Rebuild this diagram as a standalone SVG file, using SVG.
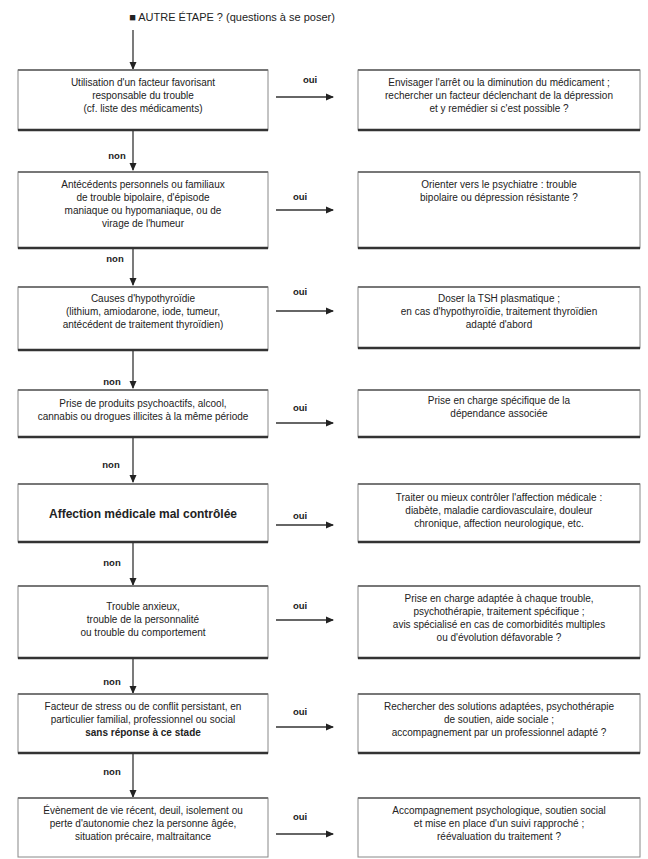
<svg xmlns="http://www.w3.org/2000/svg" width="648" height="859" viewBox="0 0 648 859">
<defs>
<marker id="ah" markerWidth="8" markerHeight="8" refX="7" refY="4" orient="auto" markerUnits="userSpaceOnUse">
<path d="M0,0.5 L8,4 L0,7.5 z" fill="#222"/>
</marker>
<style>
.box{fill:#fff;stroke:#888;stroke-width:1}
.top{stroke:#777;stroke-width:2}
.bot{stroke:#333;stroke-width:2.5}
.t{font-family:"Liberation Sans",Arial,sans-serif;font-size:10px;fill:#222;text-anchor:middle}
.b{font-weight:bold}
.lbl{font-family:"Liberation Sans",Arial,sans-serif;font-size:9.5px;fill:#222;text-anchor:middle;font-weight:bold}
.c{stroke:#333;stroke-width:1.3;fill:none;marker-end:url(#ah)}
</style>
</defs>
<rect width="648" height="859" fill="#fff"/>

<text class="t" x="232" y="21" style="font-size:11px">■ AUTRE ÉTAPE ? (questions à se poser)</text>

<g id="connectors">
<line class="c" x1="133" y1="30" x2="133" y2="69"/>
<line class="c" x1="133" y1="131" x2="133" y2="170"/>
<line class="c" x1="133" y1="249" x2="133" y2="285"/>
<line class="c" x1="133" y1="351" x2="133" y2="388"/>
<line class="c" x1="133" y1="438" x2="133" y2="482"/>
<line class="c" x1="133" y1="543" x2="133" y2="585"/>
<line class="c" x1="133" y1="659" x2="133" y2="693"/>
<line class="c" x1="133" y1="754" x2="133" y2="797"/>
<line class="c" x1="276" y1="97" x2="333" y2="97"/>
<line class="c" x1="276" y1="210" x2="333" y2="210"/>
<line class="c" x1="276" y1="311" x2="333" y2="311"/>
<line class="c" x1="276" y1="423" x2="333" y2="423"/>
<line class="c" x1="276" y1="525" x2="333" y2="525"/>
<line class="c" x1="276" y1="620" x2="333" y2="620"/>
<line class="c" x1="276" y1="727" x2="333" y2="727"/>
<line class="c" x1="276" y1="834" x2="333" y2="834"/>
<text class="lbl" x="310" y="83">oui</text>
<text class="lbl" x="300" y="200">oui</text>
<text class="lbl" x="300" y="295">oui</text>
<text class="lbl" x="300" y="411">oui</text>
<text class="lbl" x="300" y="519">oui</text>
<text class="lbl" x="300" y="609">oui</text>
<text class="lbl" x="300" y="715">oui</text>
<text class="lbl" x="300" y="820">oui</text>
<text class="lbl" x="117" y="159">non</text>
<text class="lbl" x="115" y="262">non</text>
<text class="lbl" x="112" y="385">non</text>
<text class="lbl" x="111" y="468">non</text>
<text class="lbl" x="112" y="566">non</text>
<text class="lbl" x="112" y="685">non</text>
<text class="lbl" x="112" y="775">non</text>
</g>

<g id="q1">
<rect class="box" x="18" y="70" width="250" height="60"/>
<line class="top" x1="18" y1="70" x2="268" y2="70"/><line class="bot" x1="18" y1="130" x2="268" y2="130"/>
<text class="t" x="143" y="86">Utilisation d'un facteur favorisant</text>
<text class="t" x="143" y="99">responsable du trouble</text>
<text class="t" x="143" y="112">(cf. liste des médicaments)</text>
</g>
<g id="r1">
<rect class="box" x="358" y="70" width="282" height="60"/>
<line class="top" x1="358" y1="70" x2="640" y2="70"/><line class="bot" x1="358" y1="130" x2="640" y2="130"/>
<text class="t" x="499" y="86">Envisager l'arrêt ou la diminution du médicament ;</text>
<text class="t" x="499" y="99">rechercher un facteur déclenchant de la dépression</text>
<text class="t" x="499" y="112">et y remédier si c'est possible ?</text>
</g>

<g id="q2">
<rect class="box" x="18" y="172" width="250" height="76"/>
<line class="top" x1="18" y1="172" x2="268" y2="172"/><line class="bot" x1="18" y1="248" x2="268" y2="248"/>
<text class="t" x="143" y="188">Antécédents personnels ou familiaux</text>
<text class="t" x="143" y="201">de trouble bipolaire, d'épisode</text>
<text class="t" x="143" y="214">maniaque ou hypomaniaque, ou de</text>
<text class="t" x="143" y="227">virage de l'humeur</text>
</g>
<g id="r2">
<rect class="box" x="358" y="172" width="282" height="76"/>
<line class="top" x1="358" y1="172" x2="640" y2="172"/><line class="bot" x1="358" y1="248" x2="640" y2="248"/>
<text class="t" x="499" y="188">Orienter vers le psychiatre : trouble</text>
<text class="t" x="499" y="201">bipolaire ou dépression résistante ?</text>
</g>

<g id="q3">
<rect class="box" x="18" y="287" width="250" height="63"/>
<line class="top" x1="18" y1="287" x2="268" y2="287"/><line class="bot" x1="18" y1="350" x2="268" y2="350"/>
<text class="t" x="143" y="302">Causes d'hypothyroïdie</text>
<text class="t" x="143" y="315">(lithium, amiodarone, iode, tumeur,</text>
<text class="t" x="143" y="328">antécédent de traitement thyroïdien)</text>
</g>
<g id="r3">
<rect class="box" x="358" y="287" width="282" height="61"/>
<line class="top" x1="358" y1="287" x2="640" y2="287"/><line class="bot" x1="358" y1="348" x2="640" y2="348"/>
<text class="t" x="499" y="302">Doser la TSH plasmatique ;</text>
<text class="t" x="499" y="315">en cas d'hypothyroïdie, traitement thyroïdien</text>
<text class="t" x="499" y="328">adapté d'abord</text>
</g>

<g id="q4">
<rect class="box" x="18" y="390" width="250" height="47"/>
<line class="top" x1="18" y1="390" x2="268" y2="390"/><line class="bot" x1="18" y1="437" x2="268" y2="437"/>
<text class="t" x="143" y="407">Prise de produits psychoactifs, alcool,</text>
<text class="t" x="143" y="420">cannabis ou drogues illicites à la même période</text>
</g>
<g id="r4">
<rect class="box" x="358" y="390" width="282" height="47"/>
<line class="top" x1="358" y1="390" x2="640" y2="390"/><line class="bot" x1="358" y1="437" x2="640" y2="437"/>
<text class="t" x="499" y="404">Prise en charge spécifique de la</text>
<text class="t" x="499" y="417">dépendance associée</text>
</g>

<g id="q5">
<rect class="box" x="18" y="484" width="250" height="58"/>
<line class="top" x1="18" y1="484" x2="268" y2="484"/><line class="bot" x1="18" y1="542" x2="268" y2="542"/>
<text class="t b" x="143" y="518" style="font-size:12px">Affection médicale mal contrôlée</text>
</g>
<g id="r5">
<rect class="box" x="358" y="484" width="282" height="58"/>
<line class="top" x1="358" y1="484" x2="640" y2="484"/><line class="bot" x1="358" y1="542" x2="640" y2="542"/>
<text class="t" x="499" y="501">Traiter ou mieux contrôler l'affection médicale :</text>
<text class="t" x="499" y="514">diabète, maladie cardiovasculaire, douleur</text>
<text class="t" x="499" y="527">chronique, affection neurologique, etc.</text>
</g>

<g id="q6">
<rect class="box" x="18" y="586" width="250" height="72"/>
<line class="top" x1="18" y1="586" x2="268" y2="586"/><line class="bot" x1="18" y1="658" x2="268" y2="658"/>
<text class="t" x="143" y="610">Trouble anxieux,</text>
<text class="t" x="143" y="623">trouble de la personnalité</text>
<text class="t" x="143" y="636">ou trouble du comportement</text>
</g>
<g id="r6">
<rect class="box" x="358" y="586" width="282" height="72"/>
<line class="top" x1="358" y1="586" x2="640" y2="586"/><line class="bot" x1="358" y1="658" x2="640" y2="658"/>
<text class="t" x="499" y="602">Prise en charge adaptée à chaque trouble,</text>
<text class="t" x="499" y="615">psychothérapie, traitement spécifique ;</text>
<text class="t" x="499" y="628">avis spécialisé en cas de comorbidités multiples</text>
<text class="t" x="499" y="641">ou d'évolution défavorable ?</text>
</g>

<g id="q7">
<rect class="box" x="18" y="694" width="250" height="59"/>
<line class="top" x1="18" y1="694" x2="268" y2="694"/><line class="bot" x1="18" y1="753" x2="268" y2="753"/>
<text class="t" x="143" y="710">Facteur de stress ou de conflit persistant, en</text>
<text class="t" x="143" y="723">particulier familial, professionnel ou social</text>
<text class="t b" x="143" y="736">sans réponse à ce stade</text>
</g>
<g id="r7">
<rect class="box" x="358" y="694" width="282" height="59"/>
<line class="top" x1="358" y1="694" x2="640" y2="694"/><line class="bot" x1="358" y1="753" x2="640" y2="753"/>
<text class="t" x="499" y="710">Rechercher des solutions adaptées, psychothérapie</text>
<text class="t" x="499" y="723">de soutien, aide sociale ;</text>
<text class="t" x="499" y="736">accompagnement par un professionnel adapté ?</text>
</g>

<g id="q8">
<rect class="box" x="18" y="798" width="250" height="59"/>
<line class="top" x1="18" y1="798" x2="268" y2="798"/>
<text class="t" x="143" y="814">Évènement de vie récent, deuil, isolement ou</text>
<text class="t" x="143" y="827">perte d'autonomie chez la personne âgée,</text>
<text class="t" x="143" y="840">situation précaire, maltraitance</text>
</g>
<g id="r8">
<rect class="box" x="358" y="798" width="282" height="59"/>
<line class="top" x1="358" y1="798" x2="640" y2="798"/>
<text class="t" x="499" y="814">Accompagnement psychologique, soutien social</text>
<text class="t" x="499" y="827">et mise en place d'un suivi rapproché ;</text>
<text class="t" x="499" y="840">réévaluation du traitement ?</text>
</g>
</svg>
